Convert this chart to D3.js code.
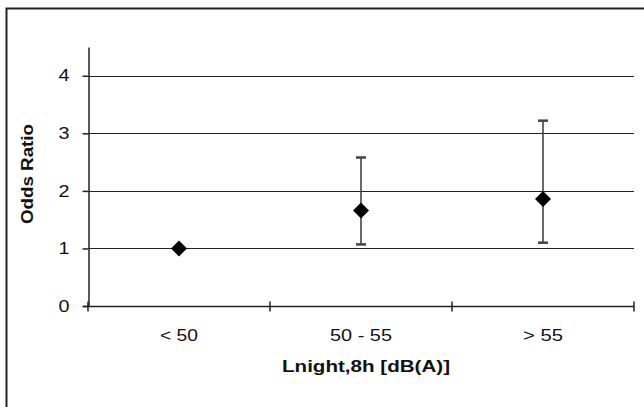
<!DOCTYPE html>
<html>
<head>
<meta charset="utf-8">
<script src="https://cdn.jsdelivr.net/npm/d3@7"></script>
<style>
  body { margin: 0; background: #fff; }
  text { font-family: "Liberation Sans", Arial, sans-serif; fill: #111; }
</style>
</head>
<body>
<div id="chart"></div>
<script>
const categories = ["< 50", "50 - 55", "> 55"];
const oddsRatio = [1.0, 1.66, 1.86];
const lowerCI = [null, 1.07, 1.10];
const upperCI = [null, 2.58, 3.22];
const yTicks = [0, 1, 2, 3, 4];

const width = 644, height = 407;
const margin = { top: 47, right: 10, bottom: 101, left: 88 };
const plotRight = 634;

// the reference font is drawn wider than Arial, so widths are fitted
const catLength = { "< 50": 38, "50 - 55": 62, "> 55": 40 };

const svg = d3.select("#chart")
  .append("svg")
  .attr("width", width)
  .attr("height", height);

// outer frame (right / bottom edges fall outside the picture)
svg.append("rect")
  .attr("x", 6.5).attr("y", 8.5)
  .attr("width", 700).attr("height", 500)
  .attr("fill", "none")
  .attr("stroke", "#222")
  .attr("stroke-width", 2);

const x = d3.scaleBand()
  .domain(categories)
  .range([margin.left, plotRight]);

const y = d3.scaleLinear()
  .domain([0, 4.5])
  .range([height - margin.bottom, margin.top]);

const g = svg.append("g");

// gridlines
g.selectAll(".grid")
  .data(yTicks.filter(d => d > 0))
  .enter()
  .append("line")
  .attr("x1", margin.left).attr("x2", plotRight)
  .attr("y1", d => Math.round(y(d)) + 0.5)
  .attr("y2", d => Math.round(y(d)) + 0.5)
  .attr("stroke", "#222")
  .attr("stroke-width", 1);

// y axis
const yAxis = g.append("g")
  .attr("transform", `translate(${margin.left + 0.5},0)`)
  .call(d3.axisLeft(y).tickValues(yTicks).tickSize(6).tickSizeOuter(0)
    .tickPadding(13).tickFormat(d3.format("d")));
yAxis.selectAll("text")
  .attr("font-size", 16)
  .attr("font-family", "Liberation Sans, Arial, sans-serif")
  .attr("textLength", 11)
  .attr("lengthAdjust", "spacingAndGlyphs")
  .attr("fill", "#111");
yAxis.select(".domain").attr("stroke", "#222").attr("stroke-width", 1.5);
yAxis.selectAll(".tick line").attr("stroke", "#222").attr("stroke-width", 1.5);

// x axis with ticks between bands
const xAxisG = g.append("g")
  .attr("transform", `translate(0,${Math.round(y(0)) + 0.5})`);
xAxisG.append("line")
  .attr("x1", margin.left - 5).attr("x2", plotRight)
  .attr("stroke", "#222").attr("stroke-width", 1.5);
const bounds = categories.map(c => x(c)).concat([x.range()[1]]);
xAxisG.selectAll(".xt")
  .data(bounds)
  .enter()
  .append("line")
  .attr("x1", d => d).attr("x2", d => d)
  .attr("y1", -5).attr("y2", 5)
  .attr("stroke", "#222").attr("stroke-width", 1.5);
xAxisG.selectAll(".xl")
  .data(categories)
  .enter()
  .append("text")
  .attr("x", d => x(d) + x.bandwidth() / 2)
  .attr("y", 34)
  .attr("text-anchor", "middle")
  .attr("font-size", 17)
  .attr("textLength", d => catLength[d])
  .attr("lengthAdjust", "spacingAndGlyphs")
  .text(d => d);

// error bars
const pts = categories.map((c, i) => ({ c, v: oddsRatio[i], lo: lowerCI[i], hi: upperCI[i] }));
const cx = d => x(d.c) + x.bandwidth() / 2;
const eb = g.selectAll(".eb")
  .data(pts.filter(d => d.lo !== null))
  .enter()
  .append("g")
  .attr("stroke", "#444")
  .attr("stroke-width", 1.6);
eb.append("line")
  .attr("x1", cx).attr("x2", cx)
  .attr("y1", d => y(d.lo)).attr("y2", d => y(d.hi));
eb.append("line")
  .attr("x1", d => cx(d) - 5).attr("x2", d => cx(d) + 5)
  .attr("y1", d => y(d.lo)).attr("y2", d => y(d.lo))
  .attr("stroke-width", 2.5);
eb.append("line")
  .attr("x1", d => cx(d) - 5).attr("x2", d => cx(d) + 5)
  .attr("y1", d => y(d.hi)).attr("y2", d => y(d.hi))
  .attr("stroke-width", 2.5);

// diamonds
g.selectAll(".pt")
  .data(pts)
  .enter()
  .append("path")
  .attr("d", "M0,-8L8,0L0,8L-8,0Z")
  .attr("transform", d => `translate(${cx(d)},${y(d.v)})`)
  .attr("fill", "#000");

// axis titles
svg.append("text")
  .attr("transform", `translate(33,174) rotate(-90)`)
  .attr("text-anchor", "middle")
  .attr("font-size", 17)
  .attr("font-weight", "bold")
  .attr("textLength", 100)
  .attr("lengthAdjust", "spacingAndGlyphs")
  .text("Odds Ratio");

svg.append("text")
  .attr("x", 366)
  .attr("y", 372)
  .attr("text-anchor", "middle")
  .attr("font-size", 17)
  .attr("font-weight", "bold")
  .attr("textLength", 168)
  .attr("lengthAdjust", "spacingAndGlyphs")
  .text("Lnight,8h [dB(A)]");
</script>
</body>
</html>
